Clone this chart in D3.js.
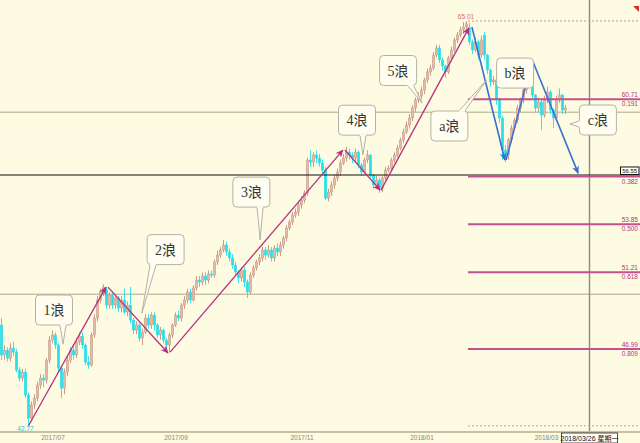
<!DOCTYPE html>
<html><head><meta charset="utf-8">
<script src="https://cdn.jsdelivr.net/npm/d3@7"></script>
<style>html,body{margin:0;padding:0;background:#fdfbe2;overflow:hidden}</style>
</head><body><svg id="c" width="640" height="443"></svg>
<script>
// ---- data (daily candles) ----
const opens = [48.31,46.66,46.93,46.49,47.04,46.82,45.83,45.39,45.72,44.46,
43.19,43.91,44.29,45.01,45.39,45.28,46.38,47.48,47.76,47.21,
45.94,44.84,45.72,46.38,46.93,46.66,47.37,47.70,47.21,46.27,
46.11,47.76,48.69,49.68,50.12,50.23,49.40,49.95,49.40,49.79,
49.24,49.68,49.02,49.40,48.58,48.03,48.31,47.59,47.92,48.69,
48.31,48.85,48.31,47.76,48.03,47.48,47.21,47.76,48.31,48.85,
48.69,49.40,49.68,50.12,49.68,50.34,50.78,50.67,51.00,50.78,
51.11,51.05,51.77,52.15,52.43,52.70,52.32,51.99,51.60,51.22,
50.89,51.33,50.67,50.12,51.05,51.44,51.77,51.99,52.43,52.15,
52.43,51.99,52.54,52.32,52.70,53.09,53.64,53.96,54.35,54.51,
54.90,55.17,55.56,57.37,57.26,57.65,57.48,57.21,56.82,55.28,
55.61,56.00,56.38,56.71,57.21,57.48,57.81,57.65,57.48,57.81,
57.10,56.71,57.37,57.65,56.55,56.00,56.27,55.83,56.38,56.82,
56.93,57.37,57.65,58.03,58.47,58.91,59.30,59.68,60.23,60.67,
60.89,61.22,61.77,62.21,62.43,63.14,63.53,62.87,62.54,62.21,
62.98,63.42,63.97,64.24,64.52,64.68,64.63,63.86,63.42,63.86,
63.14,64.24,63.14,62.32,61.66,61.77,60.67,59.68,57.92,57.65,
58.47,59.13,59.57,60.23,60.67,61.22,61.88,62.43,60.94,60.23,
60.56,59.84,60.67,61.11,60.12,59.68,60.67,60.94,60.12];
const closes = [46.66,46.93,46.49,47.04,46.82,45.83,45.39,45.72,44.46,43.19,
43.91,44.29,45.01,45.39,45.28,46.38,47.48,47.76,47.21,45.94,
44.84,45.72,46.38,46.93,46.66,47.37,47.70,47.21,46.27,46.11,
47.76,48.69,49.68,50.12,50.39,49.40,49.95,49.40,49.79,49.24,
49.68,49.02,49.40,48.58,48.03,48.31,47.59,47.92,48.69,48.31,
48.85,48.31,47.76,48.03,47.48,47.21,47.76,48.31,48.85,48.69,
49.40,49.68,50.12,49.68,50.34,50.78,50.67,51.00,50.78,51.11,
51.05,51.77,52.15,52.43,52.70,52.32,51.99,51.60,51.22,50.89,
51.33,50.67,50.12,51.05,51.44,51.77,51.99,52.43,52.15,52.43,
51.99,52.54,52.32,52.70,53.09,53.64,53.96,54.35,54.51,54.90,
55.17,55.56,57.37,57.26,57.65,57.48,57.21,56.82,55.28,55.61,
56.00,56.38,56.71,57.21,57.48,57.81,57.65,57.48,57.81,57.10,
56.71,57.37,57.65,56.55,56.00,56.27,55.83,56.38,56.82,56.93,
57.37,57.65,58.03,58.47,58.91,59.30,59.68,60.23,60.67,60.89,
61.22,61.77,62.21,62.43,63.14,63.53,62.87,62.54,62.21,62.98,
63.42,63.97,64.24,64.52,64.68,64.85,63.86,63.42,63.86,63.14,
63.97,63.14,62.32,61.66,61.77,60.67,59.68,57.92,57.65,58.47,
59.13,59.57,60.23,60.67,61.22,61.88,62.43,60.94,60.23,60.56,
59.84,60.67,61.11,60.12,59.68,60.67,60.94,60.12,60.23];
const highs = [48.69,47.2,47.1,47.3,47.4,47.0,46.0,45.9,45.9,44.6,
44.1,44.5,45.2,45.6,45.6,46.5,47.7,48.0,47.9,47.3,
46.1,45.9,46.6,47.1,47.2,47.6,47.9,47.9,47.3,46.6,
47.9,48.9,49.9,50.3,50.55,50.4,50.1,50.1,50.0,49.9,
49.9,50.3,49.6,50.4,48.7,48.5,48.4,48.1,48.9,48.9,
49.0,49.0,48.4,48.2,48.1,47.6,47.9,48.4,49.0,49.1,
49.5,49.9,50.3,50.3,50.5,51.0,51.0,51.2,51.2,51.3,
51.3,51.9,52.4,52.6,52.98,52.9,52.5,52.2,51.8,51.3,
51.5,51.5,50.8,51.2,51.6,51.9,52.2,52.6,52.6,52.7,
52.6,52.7,52.8,52.9,53.2,53.8,54.1,54.5,54.7,55.1,
55.4,55.7,57.5,57.9,57.8,57.9,57.7,57.4,57.0,55.8,
56.2,56.6,56.9,57.4,57.7,58.09,58.0,57.8,58.0,57.9,
57.2,57.5,57.92,57.7,56.6,56.5,56.4,56.5,57.0,57.1,
57.5,57.8,58.2,58.6,59.1,59.5,59.9,60.4,60.8,61.1,
61.4,61.9,62.4,62.6,63.3,63.7,63.7,63.0,62.6,63.1,
63.6,64.1,64.4,64.7,64.96,65.01,64.9,64.0,64.1,64.0,
64.2,64.4,63.2,62.4,62.0,61.9,60.8,59.8,58.2,58.6,
59.3,59.7,60.4,60.8,61.4,62.0,62.76,62.6,61.0,60.8,
60.7,60.9,61.4,61.2,60.2,60.9,61.3,61.0,60.4];
const lows = [46.38,46.4,46.3,46.3,46.6,45.7,45.2,45.2,44.3,42.77,
43.0,43.7,44.1,44.8,44.9,45.1,46.2,47.3,47.0,45.7,
44.3,44.5,45.5,46.2,46.4,46.5,47.2,47.0,46.1,45.9,
46.0,47.6,48.5,49.5,49.9,49.2,49.2,49.2,49.2,49.0,
49.0,48.9,48.8,48.4,47.8,47.8,47.4,47.2,47.8,48.1,
48.1,48.0,47.6,47.5,47.3,47.0,46.82,47.6,48.2,48.5,
48.5,49.2,49.5,49.5,49.6,50.2,50.4,50.5,50.5,50.6,
50.9,50.9,51.6,52.0,52.3,52.1,51.8,51.4,51.0,50.6,
50.7,50.4,49.79,50.0,50.9,51.3,51.6,51.8,51.9,52.0,
51.8,51.8,52.1,52.1,52.5,52.9,53.5,53.8,54.2,54.3,
54.7,55.0,55.4,57.0,57.0,57.2,57.0,56.6,55.17,55.1,
55.4,55.8,56.2,56.5,57.1,57.3,57.4,57.2,57.3,56.9,
56.5,56.6,57.2,56.4,55.8,55.9,55.56,55.6,56.2,56.7,
56.8,57.2,57.5,57.9,58.3,58.8,59.1,59.5,60.0,60.5,
60.7,61.0,61.6,62.0,62.3,63.0,62.7,62.3,61.9,62.1,
62.8,63.3,63.8,64.1,64.3,64.5,63.7,63.2,63.3,62.9,
63.0,62.9,62.1,61.4,61.5,60.4,59.4,57.37,57.26,57.4,
58.3,59.0,59.4,60.0,60.5,61.0,61.7,60.8,60.0,60.0,
59.02,59.7,60.5,59.9,59.13,59.5,60.5,59.9,59.9];

const xTickIndex = [17, 58, 100, 140, 181.5];
const xTickLabels = ["2017/07", "2017/09", "2017/11", "2018/01", "2018/03"];
const gridPrices = [50, 60];

const fibHigh = 65.01, fibLow = 42.77, fibLowIndex = 9, fibStartIndex = 155.5;
const fibRatios = ["0.191", "0.382", "0.500", "0.618", "0.809"];
const fibPrices = [60.71, 56.46, 53.85, 51.21, 46.99];
const fibPriceText = ["60.71", "", "53.85", "51.21", "46.99"];
const markPrice = 56.55, markText = "56.55";
const crossIndex = 196, crossLabel = "2018/03/26 星期一";

const waveFrom = [[9,42.77],[35.5,50.39],[56.2,46.82],[114.5,57.92],[126.5,55.72],[156.8,64.68],[168.2,57.37],[177.2,62.76]];
const waveTo   = [[34.8,50.39],[55.5,46.77],[113.8,57.92],[126.2,55.72],[155.8,64.63],[167.8,57.37],[176.8,62.76],[192.2,56.65]];
const waveKind = ["m","m","m","m","m","b","b","b"];

const labelTexts = ["1浪","2浪","3浪","4浪","5浪","a浪","b浪","c浪"];
const labelAt = [[17.5,49.13],[54.7,52.45],[83.3,55.61],[118.5,59.56],[132.2,62.29],[149.3,59.24],[171.2,62.15],[198.8,59.57]];
const labelTail = [[20.5,47.25],[46.8,48.96],[86.2,52.98],[120.5,57.65],[140.2,60.50],[161.7,61.77],null,[189.5,59.35]];

// ---- drawing ----
const W = 640, H = 443, axisY = 432;
const svg = d3.select("#c");
const x = d3.scaleLinear().domain([0, 196]).range([1.5, 589.5]);
const y = d3.scaleLinear().domain([fibHigh, fibLow]).range([21, 425.8]);
const BG = "#fdfbe2";

svg.append("rect").attr("width", W).attr("height", H).attr("fill", BG);

const defs = svg.append("defs");
[["am", "#b8307f"], ["ab", "#3b6fd2"]].forEach(([id, col]) => {
  defs.append("marker").attr("id", id).attr("viewBox", "0 0 10 10")
    .attr("refX", 9).attr("refY", 5).attr("markerWidth", 8).attr("markerHeight", 8)
    .attr("markerUnits", "userSpaceOnUse").attr("orient", "auto")
    .append("path").attr("d", "M0,0.5 L10,5 L0,9.5 L3,5 Z").attr("fill", col);
});

// grid lines
svg.selectAll(".grid").data(gridPrices).enter().append("line")
  .attr("x1", 0).attr("x2", W).attr("y1", d => y(d)).attr("y2", d => y(d))
  .attr("stroke", "#b0a890").attr("stroke-width", 1);

// crosshair vertical
svg.append("line").attr("x1", x(crossIndex)).attr("x2", x(crossIndex))
  .attr("y1", 0).attr("y2", axisY).attr("stroke", "#8e8c80").attr("stroke-width", 1.4);

// candles
const candles = d3.range(opens.length).map(i => ({i, o: opens[i], c: closes[i], h: highs[i], l: lows[i]}));
const UPF = "#e0bcac", UPS = "#c4907f", DN = "#28dfe8";
const cg = svg.append("g");
cg.selectAll("line").data(candles).enter().append("line")
  .attr("x1", d => x(d.i)).attr("x2", d => x(d.i))
  .attr("y1", d => y(d.h)).attr("y2", d => y(d.l))
  .attr("stroke", d => d.c >= d.o ? UPS : DN).attr("stroke-width", 0.9);
cg.selectAll("rect").data(candles).enter().append("rect")
  .attr("x", d => x(d.i) - 1.25).attr("width", 2.5)
  .attr("y", d => y(Math.max(d.o, d.c)))
  .attr("height", d => Math.max(1, Math.abs(y(d.o) - y(d.c))))
  .attr("fill", d => d.c >= d.o ? UPF : DN)
  .attr("stroke", d => d.c >= d.o ? UPS : DN).attr("stroke-width", 0.45);

// black mark line
svg.append("line").attr("x1", 0).attr("x2", W).attr("y1", y(markPrice)).attr("y2", y(markPrice))
  .attr("stroke", "#111").attr("stroke-width", 1.2);

// fib dotted top and bottom
svg.append("line").attr("x1", x(fibStartIndex)).attr("x2", W).attr("y1", y(fibHigh)).attr("y2", y(fibHigh))
  .attr("stroke", "#d49090").attr("stroke-width", 1).attr("stroke-dasharray", "2,2");
svg.append("line").attr("x1", x(fibStartIndex)).attr("x2", W).attr("y1", y(fibLow)).attr("y2", y(fibLow))
  .attr("stroke", "#a8a8a0").attr("stroke-width", 1).attr("stroke-dasharray", "2,2");

// fib levels
const FIB = "#c4508e";
fibPrices.forEach((p, k) => {
  svg.append("line").attr("x1", x(fibStartIndex)).attr("x2", W).attr("y1", y(p)).attr("y2", y(p))
    .attr("stroke", FIB).attr("stroke-width", 2);
  if (fibPriceText[k]) svg.append("text").attr("x", 638).attr("y", y(p) - 2)
    .attr("text-anchor", "end").attr("font-size", 6.5).attr("fill", "#b8307f")
    .attr("font-family", "Liberation Sans, sans-serif").text(fibPriceText[k]);
  svg.append("text").attr("x", 638).attr("y", y(p) + 7)
    .attr("text-anchor", "end").attr("font-size", 6.5).attr("fill", "#b8307f")
    .attr("font-family", "Liberation Sans, sans-serif").text(fibRatios[k]);
});

// mark price box
svg.append("rect").attr("x", 620.5).attr("y", y(markPrice) - 8).attr("width", 18.5).attr("height", 7.5)
  .attr("fill", "#fff").attr("stroke", "#111").attr("stroke-width", 1);
svg.append("text").attr("x", 629.7).attr("y", y(markPrice) - 2.2).attr("text-anchor", "middle")
  .attr("font-size", 6).attr("fill", "#111").attr("font-family", "Liberation Sans, sans-serif").text(markText);

// high / low labels
svg.append("text").attr("x", x(fibStartIndex) - 2).attr("y", y(fibHigh) - 2).attr("text-anchor", "middle")
  .attr("font-size", 6.5).attr("fill", "#d87060").attr("font-family", "Liberation Sans, sans-serif").text(fibHigh.toFixed(2));
svg.append("text").attr("x", x(fibLowIndex) - 3).attr("y", 431).attr("text-anchor", "middle")
  .attr("font-size", 6.5).attr("fill", "#40b8cc").attr("font-family", "Liberation Sans, sans-serif").text(fibLow.toFixed(2));

// wave arrows
waveFrom.forEach((f, k) => {
  const t = waveTo[k];
  const m = waveKind[k] === "m";
  svg.append("line").attr("x1", x(f[0])).attr("y1", y(f[1])).attr("x2", x(t[0])).attr("y2", y(t[1]))
    .attr("stroke", m ? "#b8307f" : "#3b6fd2").attr("stroke-width", m ? 1.3 : 1.6)
    .attr("marker-end", m ? "url(#am)" : "url(#ab)");
});

// callout labels
const BW = 37, BH = 30, BOXF = "#fefdf0", BOXS = "#b4b2a4";
labelTexts.forEach((txt, k) => {
  const cx = x(labelAt[k][0]), cy = y(labelAt[k][1]);
  const g = svg.append("g");
  g.append("rect").attr("x", cx - BW/2).attr("y", cy - BH/2).attr("width", BW).attr("height", BH)
    .attr("rx", 4).attr("fill", BOXF).attr("stroke", BOXS).attr("stroke-width", 1);
  const tl = labelTail[k];
  if (tl) {
    const tx = x(tl[0]), ty = y(tl[1]);
    const dx = tx - cx, dy = ty - cy;
    let b1, b2;
    if (Math.abs(dy) / BH > Math.abs(dx) / BW) {
      const ex = Math.max(cx - BW/2 + 6, Math.min(cx + BW/2 - 6, tx));
      const ey = dy > 0 ? cy + BH/2 : cy - BH/2;
      b1 = [ex - 3, ey]; b2 = [ex + 3, ey];
    } else {
      const ey = Math.max(cy - BH/2 + 6, Math.min(cy + BH/2 - 6, ty));
      const ex = dx > 0 ? cx + BW/2 : cx - BW/2;
      b1 = [ex, ey - 3]; b2 = [ex, ey + 3];
    }
    g.append("path").attr("d", `M${b1[0]},${b1[1]} L${tx},${ty} L${b2[0]},${b2[1]}`)
      .attr("fill", BOXF).attr("stroke", BOXS).attr("stroke-width", 1);
    g.append("line").attr("x1", b1[0]).attr("y1", b1[1]).attr("x2", b2[0]).attr("y2", b2[1])
      .attr("stroke", BOXF).attr("stroke-width", 1.6);
  }
  g.append("text").attr("x", cx).attr("y", cy + 5).attr("text-anchor", "middle")
    .attr("font-size", 14).attr("fill", "#333")
    .attr("font-family", "'Liberation Serif','Noto Sans CJK SC',serif").text(txt);
});

// x axis
const axis = d3.axisBottom(x).tickValues(xTickIndex).tickFormat((d, i) => xTickLabels[i]).tickSize(0).tickPadding(3);
const gAx = svg.append("g").attr("transform", `translate(0,${axisY})`).call(axis);
gAx.select(".domain").remove();
gAx.selectAll("text").attr("font-size", 6.5).attr("fill", "#8a8878").attr("font-family", "Liberation Sans, sans-serif");
svg.append("line").attr("x1", 0).attr("x2", W).attr("y1", axisY).attr("y2", axisY)
  .attr("stroke", "#c8c0a0").attr("stroke-width", 2);

// crosshair date box
const cxb = x(crossIndex);
svg.append("rect").attr("x", cxb - 28).attr("y", axisY + 1).attr("width", 56).attr("height", 10)
  .attr("fill", "#fff").attr("stroke", "#222").attr("stroke-width", 0.8);
svg.append("text").attr("x", cxb).attr("y", axisY + 8.8).attr("text-anchor", "middle")
  .attr("font-size", 7).attr("fill", "#111").attr("font-family", "'Liberation Sans','Noto Sans CJK SC',sans-serif").text(crossLabel);

// small red marker at top right
svg.append("path").attr("d", "M633,6 L639,6 L639,12 Z").attr("fill", "#d03030");
</script>
</body></html>
